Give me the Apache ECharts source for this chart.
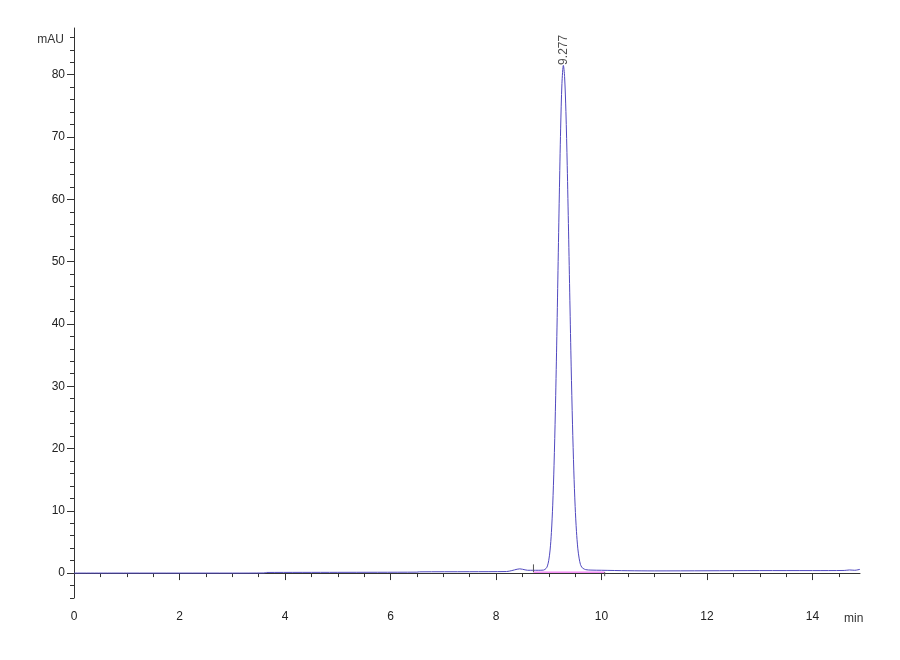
<!DOCTYPE html>
<html>
<head>
<meta charset="utf-8">
<script src="https://cdn.jsdelivr.net/npm/echarts@6/dist/echarts.min.js"></script>
<style>
  html, body { margin: 0; padding: 0; background: #fff; }
  #chart { width: 900px; height: 660px; }
</style>
</head>
<body>
<div id="chart"></div>
<script>
// retention time (min) and signal (mAU)
var times = [0, 1, 2, 3, 3.6, 3.65, 5, 6.5, 6.55, 7.5, 8.2, 8.3, 8.4, 8.45, 8.5, 8.6, 8.7, 8.8, 8.9,
  8.95, 8.975, 9.0, 9.025, 9.05, 9.075, 9.1, 9.125, 9.15, 9.175, 9.2, 9.225, 9.25, 9.277,
  9.3, 9.325, 9.35, 9.375, 9.4, 9.425, 9.45, 9.475, 9.5, 9.525, 9.55, 9.575, 9.6, 9.625, 9.65,
  9.7, 9.8, 10.0, 10.5, 11, 12, 13, 14, 14.6, 14.7, 14.8, 14.9];
var signal = [0, 0, 0, 0, 0.02, 0.1, 0.12, 0.15, 0.2, 0.22, 0.25, 0.4, 0.62, 0.68, 0.62, 0.45, 0.45, 0.45, 0.48,
  0.75, 1.15, 2.05, 3.7, 6.5, 10.9, 17.3, 25.9, 36.6, 48.6, 60.7, 71.3, 78.6, 81.5,
  79.7, 74.1, 65.4, 54.9, 43.8, 33.1, 23.9, 16.4, 10.7, 6.7, 4.0, 2.4, 1.4, 0.95, 0.75,
  0.55, 0.48, 0.45, 0.38, 0.35, 0.37, 0.4, 0.4, 0.42, 0.5, 0.45, 0.6];

// integration baseline and its start / end markers
var baseX = [8.71, 10.06];
var baseY = [0.15, 0.15];
var startMark = [[8.71, 0.15], [8.71, 1.4]];
var endMark = [[10.06, 0.15], [10.06, -0.5]];

var peakTime = 9.277;
var peakHeight = 81.5;

var xMajor = [0, 2, 4, 6, 8, 10, 12, 14];
var xMinor = [0.5, 1, 1.5, 2.5, 3, 3.5, 4.5, 5, 5.5, 6.5, 7, 7.5, 8.5, 9, 9.5, 10.5, 11, 11.5, 12.5, 13, 13.5, 14.5];
var yMajor = [0, 10, 20, 30, 40, 50, 60, 70, 80];
var yMinor = [-4, -2, 2, 4, 6, 8, 12, 14, 16, 18, 22, 24, 26, 28, 32, 34, 36, 38, 42, 44, 46, 48,
  52, 54, 56, 58, 62, 64, 66, 68, 72, 74, 76, 78, 82, 84, 86];

var font = "'Liberation Sans', Arial, sans-serif";
var axisColor = '#333';

var trace = times.map(function (x, i) { return [x, signal[i]]; });
var baseline = baseX.map(function (x, i) { return [x, baseY[i]]; });

function xAxisOf(ticks, len, withLabels) {
  return {
    type: 'value',
    position: 'bottom',
    min: 0,
    max: 14.9,
    name: withLabels ? 'min' : '',
    nameLocation: 'end',
    nameGap: -16,
    nameTextStyle: { color: '#333', fontFamily: font, fontSize: 12, verticalAlign: 'top', padding: [40, 0, 0, 0] },
    axisLine: { show: withLabels, lineStyle: { color: axisColor, width: 1 } },
    axisTick: { show: true, length: len, customValues: ticks, lineStyle: { color: axisColor } },
    axisLabel: { show: withLabels, color: '#222', fontFamily: font, fontSize: 12, margin: 13, customValues: ticks },
    splitLine: { show: false }
  };
}

function yAxisOf(ticks, len, withLabels) {
  return {
    type: 'value',
    position: 'left',
    min: -4,
    max: 87.5,
    name: withLabels ? 'mAU' : '',
    nameLocation: 'end',
    nameGap: -12,
    nameTextStyle: { color: '#333', fontFamily: font, fontSize: 12, align: 'right', verticalAlign: 'middle', padding: [0, 10, 0, 0] },
    axisLine: { show: withLabels, lineStyle: { color: axisColor, width: 1 } },
    axisTick: { show: true, length: len, customValues: ticks, lineStyle: { color: axisColor } },
    axisLabel: { show: withLabels, color: '#222', fontFamily: font, fontSize: 12, margin: 9, customValues: ticks },
    splitLine: { show: false }
  };
}

var chart = echarts.init(document.getElementById('chart'));
chart.setOption({
  animation: false,
  backgroundColor: '#fff',
  grid: { left: 74, right: 40, top: 28, bottom: 62 },
  xAxis: [xAxisOf(xMajor, 7, true), xAxisOf(xMinor, 4, false)],
  yAxis: [yAxisOf(yMajor, 7, true), yAxisOf(yMinor, 4, false)],
  series: [
    {
      type: 'line',
      data: trace,
      symbol: 'none',
      smooth: 0.3,
      lineStyle: { color: '#5048bf', width: 1 }
    },
    {
      type: 'line',
      data: baseline,
      symbol: 'none',
      silent: true,
      lineStyle: { color: '#ee55ee', width: 1 }
    },
    {
      type: 'line',
      data: startMark,
      symbol: 'none',
      silent: true,
      lineStyle: { color: '#555', width: 1 }
    },
    {
      type: 'line',
      data: endMark,
      symbol: 'none',
      silent: true,
      lineStyle: { color: '#555', width: 1 }
    },
    {
      type: 'scatter',
      data: [[peakTime, peakHeight]],
      symbolSize: 1,
      itemStyle: { color: 'transparent' },
      label: {
        show: true,
        formatter: peakTime.toFixed(3),
        position: 'top',
        distance: 0,
        rotate: 90,
        align: 'left',
        verticalAlign: 'middle',
        color: '#222',
        fontFamily: font,
        fontSize: 12
      }
    }
  ]
});
</script>
</body>
</html>
